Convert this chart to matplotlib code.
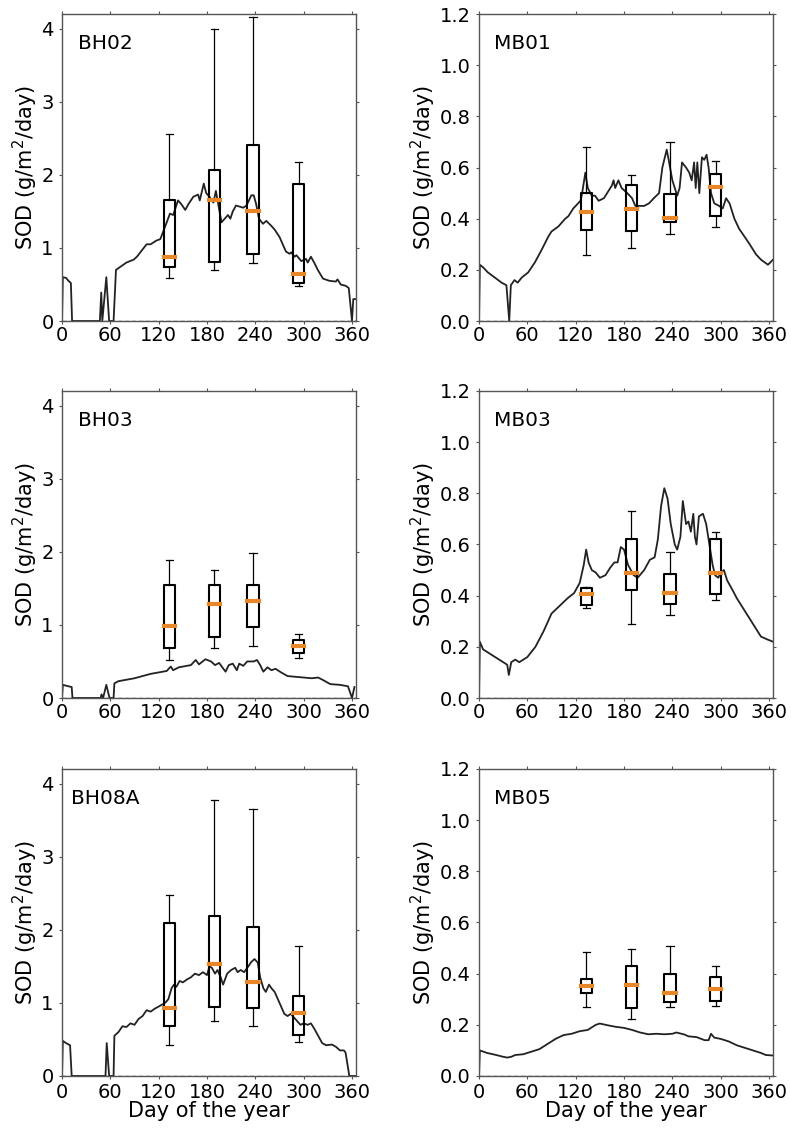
import matplotlib
matplotlib.use('Agg')
import matplotlib.pyplot as plt

# sampling days of the box plots (shared by all sites)
box_days = [133, 189, 237, 294]

# box stats per site: [whisker low, q1, median, q3, whisker high]
bh02_box = [[0.59, 0.74, 0.87, 1.65, 2.56],
            [0.70, 0.81, 1.65, 2.07, 4.00],
            [0.79, 0.92, 1.50, 2.41, 4.16],
            [0.48, 0.52, 0.64, 1.87, 2.17]]
mb01_box = [[0.26, 0.357, 0.425, 0.50, 0.68],
            [0.286, 0.352, 0.438, 0.531, 0.569],
            [0.342, 0.387, 0.404, 0.498, 0.70],
            [0.368, 0.41, 0.524, 0.575, 0.627]]
bh03_box = [[0.52, 0.68, 0.98, 1.55, 1.89],
            [0.68, 0.84, 1.28, 1.55, 1.75],
            [0.71, 0.97, 1.33, 1.55, 1.99],
            [0.55, 0.61, 0.71, 0.80, 0.87]]
mb03_box = [[0.353, 0.362, 0.406, 0.431, 0.435],
            [0.29, 0.424, 0.488, 0.62, 0.73],
            [0.324, 0.368, 0.41, 0.486, 0.569],
            [0.384, 0.406, 0.49, 0.62, 0.648]]
bh08a_box = [[0.42, 0.69, 0.93, 2.09, 2.48],
             [0.75, 0.95, 1.53, 2.19, 3.78],
             [0.69, 0.93, 1.29, 2.04, 3.65],
             [0.47, 0.56, 0.86, 1.09, 1.78]]
mb05_box = [[0.27, 0.323, 0.352, 0.380, 0.483],
            [0.223, 0.265, 0.356, 0.431, 0.495],
            [0.271, 0.289, 0.326, 0.397, 0.507],
            [0.275, 0.293, 0.339, 0.387, 0.43]]

# daily SOD curves (day, value)
bh02_day = [0, 1, 5, 8, 11, 12.5, 47, 48.7, 50, 55, 58.5, 64, 67, 80, 89, 93, 105, 110, 117, 122, 130,
            134, 138, 144, 148, 153, 157, 163, 169, 171, 176, 179, 183, 188, 191, 198, 206, 209, 212, 216,
            225, 229, 235, 238, 241, 244.5, 249.5, 253.6, 260, 264, 270, 274, 278, 282.5, 284.5, 288.7,
            291, 297, 303, 305, 309, 313, 317.5, 324, 332, 340, 342, 346, 352.6, 356, 360, 361.6, 364]
bh02_sod = [0, 0.60, 0.59, 0.55, 0.52, 0, 0, 0.39, 0, 0.60, 0, 0, 0.70, 0.80, 0.84, 0.88, 1.05, 1.05, 1.10,
            1.12, 1.35, 1.47, 1.45, 1.65, 1.60, 1.52, 1.60, 1.70, 1.73, 1.65, 1.88, 1.75, 1.70, 1.62, 1.78,
            1.35, 1.45, 1.40, 1.50, 1.58, 1.55, 1.58, 1.72, 1.72, 1.60, 1.40, 1.33, 1.37, 1.30, 1.25, 1.15,
            1.05, 0.95, 0.92, 0.94, 0.88, 0.90, 0.82, 0.85, 0.80, 0.88, 0.80, 0.70, 0.58, 0.55, 0.54, 0.57,
            0.50, 0.48, 0.45, 0, 0.30, 0.30]

mb01_day = [0, 1, 5, 11, 19.6, 28, 34, 37.5, 39.5, 44, 48, 53, 61, 69.5, 78, 86, 90, 98.6, 107, 111, 117,
            126, 128, 132, 135, 140, 144, 148.5, 155, 159, 165, 167, 169, 173, 177, 184, 190, 194, 205, 211,
            217, 223.5, 227.6, 233, 236, 240, 246, 249, 252, 257, 261, 264, 267, 269, 271, 273.5, 276.7,
            279.6, 282.5, 285, 288, 292, 298, 302.5, 306.7, 311, 317, 323, 329.6, 336, 344, 350, 358.7, 365]
mb01_sod = [0, 0.22, 0.21, 0.19, 0.17, 0.15, 0.14, 0.0, 0.14, 0.16, 0.15, 0.17, 0.19, 0.23, 0.28, 0.33,
            0.35, 0.37, 0.40, 0.41, 0.44, 0.47, 0.50, 0.58, 0.52, 0.49, 0.49, 0.47, 0.48, 0.50, 0.53, 0.55,
            0.52, 0.55, 0.52, 0.50, 0.48, 0.45, 0.45, 0.46, 0.48, 0.50, 0.60, 0.67, 0.62, 0.55, 0.49, 0.52,
            0.62, 0.60, 0.58, 0.55, 0.62, 0.52, 0.62, 0.50, 0.64, 0.63, 0.65, 0.60, 0.50, 0.46, 0.45, 0.44,
            0.48, 0.46, 0.40, 0.36, 0.33, 0.30, 0.26, 0.24, 0.22, 0.24]

bh03_day = [0, 1, 8, 12, 13, 48, 49, 51, 55, 59, 64, 65, 70, 80, 90, 100, 110, 120, 130, 135, 138, 145,
            155, 160, 166, 170, 178, 185, 190, 195, 203, 207, 212, 217, 220, 225, 230, 238, 242, 246, 250,
            255, 260, 265, 272, 280, 290, 300, 310, 318, 325, 333, 345, 355, 360, 363]
bh03_sod = [0, 0.18, 0.16, 0.15, 0, 0, 0.05, 0, 0.18, 0, 0, 0.20, 0.23, 0.25, 0.27, 0.30, 0.33, 0.35,
            0.37, 0.43, 0.38, 0.42, 0.44, 0.45, 0.52, 0.46, 0.53, 0.50, 0.45, 0.48, 0.36, 0.45, 0.47, 0.38,
            0.47, 0.44, 0.50, 0.50, 0.52, 0.45, 0.36, 0.42, 0.38, 0.40, 0.35, 0.30, 0.29, 0.28, 0.27, 0.28,
            0.24, 0.19, 0.18, 0.16, 0.0, 0.15]

mb03_day = [0, 1, 5, 10, 20, 30, 35, 37, 40, 45, 50, 60, 70, 80, 90, 100, 110, 118, 125, 130, 133, 136,
            140, 145, 150, 157, 163, 168, 172, 176, 180, 185, 192, 197, 205, 212, 218, 222, 226, 230, 234,
            238, 243, 246, 250, 253, 257, 260, 263, 266, 268, 270, 273, 278, 282, 286, 290, 293, 297, 300,
            304, 308, 315, 320, 330, 340, 350, 357, 365]
mb03_sod = [0, 0.22, 0.19, 0.18, 0.16, 0.14, 0.13, 0.09, 0.14, 0.15, 0.14, 0.16, 0.20, 0.26, 0.33, 0.36,
            0.39, 0.41, 0.45, 0.52, 0.58, 0.53, 0.50, 0.49, 0.47, 0.48, 0.51, 0.53, 0.53, 0.59, 0.58, 0.52,
            0.48, 0.47, 0.50, 0.54, 0.55, 0.62, 0.75, 0.82, 0.78, 0.68, 0.60, 0.58, 0.63, 0.77, 0.68, 0.69,
            0.65, 0.72, 0.63, 0.60, 0.71, 0.72, 0.68, 0.60, 0.52, 0.48, 0.47, 0.49, 0.50, 0.46, 0.42, 0.39,
            0.34, 0.29, 0.24, 0.23, 0.22]

bh08a_day = [0, 1, 5, 10, 12, 54, 55.5, 58.5, 64, 65, 70, 75, 80, 85, 90, 95, 100, 105, 110, 115, 120,
             128, 132, 136, 139, 142, 146, 150, 155, 160, 165, 170, 175, 180, 183, 186, 190, 193, 197,
             200, 205, 210, 215, 218, 222, 226, 230, 235, 239, 243, 246, 250, 253, 257, 260, 264, 268,
             272, 276, 280, 284, 288, 292, 296, 300, 305, 309, 313, 318, 323, 328, 335, 340, 345, 350,
             352, 356.7, 365]
bh08a_sod = [0, 0.48, 0.45, 0.42, 0, 0, 0.45, 0, 0, 0.55, 0.60, 0.68, 0.67, 0.72, 0.70, 0.78, 0.82, 0.90,
             0.88, 0.92, 0.95, 1.00, 1.05, 1.20, 1.25, 1.22, 1.30, 1.28, 1.32, 1.35, 1.40, 1.38, 1.42,
             1.38, 1.50, 1.48, 1.40, 1.45, 1.35, 1.25, 1.40, 1.45, 1.48, 1.42, 1.45, 1.42, 1.48, 1.56,
             1.60, 1.55, 1.35, 1.20, 1.15, 1.25, 1.20, 1.15, 1.05, 0.95, 0.85, 0.82, 0.85, 0.80, 0.75,
             0.70, 0.72, 0.70, 0.72, 0.65, 0.55, 0.45, 0.42, 0.43, 0.40, 0.35, 0.35, 0.32, 0.0, 0.0]

mb05_day = [0, 1, 10, 20, 30, 35, 40, 45, 55, 65, 75, 85, 95, 105, 115, 125, 135, 145, 150, 160, 170, 180,
            190, 200, 210, 220, 230, 240, 245, 255, 260, 270, 280, 285, 288, 292, 300, 310, 320, 330, 340,
            350, 356, 365]
mb05_sod = [0, 0.10, 0.09, 0.083, 0.075, 0.072, 0.075, 0.082, 0.085, 0.095, 0.105, 0.125, 0.145, 0.16,
            0.165, 0.175, 0.18, 0.20, 0.205, 0.198, 0.192, 0.188, 0.18, 0.17, 0.163, 0.165, 0.163, 0.165,
            0.17, 0.162, 0.155, 0.152, 0.14, 0.14, 0.165, 0.15, 0.145, 0.135, 0.12, 0.11, 0.10, 0.09,
            0.082, 0.08]

site_names = ['BH02', 'MB01', 'BH03', 'MB03', 'BH08A', 'MB05']
site_days = [bh02_day, mb01_day, bh03_day, mb03_day, bh08a_day, mb05_day]
site_sod = [bh02_sod, mb01_sod, bh03_sod, mb03_sod, bh08a_sod, mb05_sod]
site_box = [bh02_box, mb01_box, bh03_box, mb03_box, bh08a_box, mb05_box]

x_ticks = [0, 60, 120, 180, 240, 300, 360]
bh_yticks = [0, 1, 2, 3, 4]
mb_yticks = [0.0, 0.2, 0.4, 0.6, 0.8, 1.0, 1.2]

fig = plt.figure(figsize=(7.91, 11.3), dpi=100)
lefts = [0.0784, 0.6056]
bottoms = [0.7159, 0.3823, 0.0478]
label_x = [0.055, 0.05, 0.055, 0.05, 0.03, 0.05]

for i, name in enumerate(site_names):
    row, col = i // 2, i % 2
    ax = fig.add_axes([lefts[col], bottoms[row], 0.3717, 0.2717])
    ax.axhline(0, color='#555555', lw=1, ls=(0, (3, 2)))
    ax.plot(site_days[i], site_sod[i], color='#222222', lw=1.3)
    stats = [dict(whislo=b[0], q1=b[1], med=b[2], q3=b[3], whishi=b[4]) for b in site_box[i]]
    ax.bxp(stats, positions=box_days, widths=14, capwidths=9, showfliers=False, manage_ticks=False,
           boxprops=dict(color='k', lw=1.5),
           whiskerprops=dict(color='k', lw=0.9),
           capprops=dict(color='k', lw=0.9),
           medianprops=dict(color='#e8862a', lw=3, solid_capstyle='projecting'))
    ax.set_xlim(0, 365)
    ax.set_xticks(x_ticks)
    if col == 0:
        ax.set_ylim(0, 4.2)
        ax.set_yticks(bh_yticks)
    else:
        ax.set_ylim(0, 1.2)
        ax.set_yticks(mb_yticks)
        ax.set_yticklabels(['%.1f' % v for v in mb_yticks])
    ax.tick_params(direction='out', length=2.5, width=0.8, color='#555555', labelsize=14,
                   top=True, right=True)
    ax.tick_params(axis='y', pad=3.5)
    ax.tick_params(axis='x', pad=1 if row < 2 else 2.5)
    for s in ax.spines.values():
        s.set_color('#555555')
        s.set_linewidth(1)
    ax.set_ylabel(r'SOD (g/m$^2$/day)', fontsize=15, labelpad=1)
    ax.text(label_x[i], 0.905, name, transform=ax.transAxes, fontsize=14.5, va='center', ha='left')
    if row == 2:
        ax.set_xlabel('Day of the year', fontsize=15, labelpad=-1)

fig.savefig('out.png', dpi=100)
